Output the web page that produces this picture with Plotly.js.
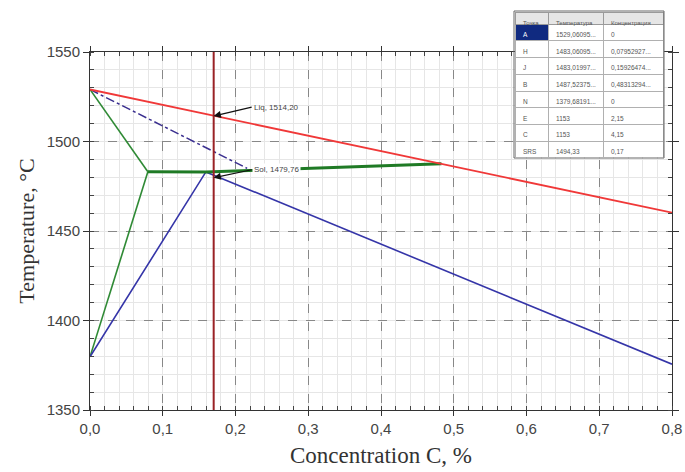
<!DOCTYPE html>
<html>
<head>
<meta charset="utf-8">
<script src="https://cdn.plot.ly/plotly-3.0.1.min.js"></script>
<style>html,body{margin:0;padding:0;background:#fff;}#chart{width:685px;height:472px;}</style>
</head>
<body>
<div id="chart"></div>
<script>
// Liquidus (A-B, extended)
var liqX = [0, 0.4831, 0.8];
var liqY = [1529.06, 1487.52, 1460.2];
// Solidus (N-J-E, clipped by axis)
var solX = [0, 0.1593, 0.8];
var solY = [1379.68, 1483.02, 1375.6];
// Delta-ferrite lines
var ahX = [0, 0.0795];
var ahY = [1529.06, 1483.06];
var nhX = [0, 0.0795];
var nhY = [1379.68, 1483.06];
// Peritectic line H-J-B
var hjbX = [0.0795, 0.1593, 0.4831];
var hjbY = [1483.06, 1483.02, 1487.52];
// Dashed auxiliary line
var dashX = [0, 0.216];
var dashY = [1529.06, 1485];
// Chosen concentration
var cutX = [0.17, 0.17];
var cutY = [1350, 1550];
var liqPoint = [0.17, 1514.2];
var solPoint = [0.17, 1479.76];
var liqLabel = "Liq, 1514,20";
var solLabel = "Sol, 1479,76";

var xTickVals = [0, 0.1, 0.2, 0.3, 0.4, 0.5, 0.6, 0.7, 0.8];
var xTickText = ["0,0", "0,1", "0,2", "0,3", "0,4", "0,5", "0,6", "0,7", "0,8"];
var yTickVals = [1350, 1400, 1450, 1500, 1550];
var yTickText = ["1350", "1400", "1450", "1500", "1550"];

// Table
var tblHeader = ["Точка", "Температура", "Концентрация"];
var tblPoints = ["A", "H", "J", "B", "N", "E", "C", "SRS"];
var tblTemps = ["1529,06095...", "1483,06095...", "1483,01997...", "1487,52375...", "1379,68191...", "1153", "1153", "1494,33"];
var tblConc = ["0", "0,07952927...", "0,15926474...", "0,48313294...", "0", "2,15", "4,15", "0,17"];

var W = 685, H = 472;
var px = function(v){return v / W;};
var py = function(v){return 1 - v / H;};

var traces = [
  {x: dashX, y: dashY, mode: 'lines', line: {color: '#3a2f8f', width: 1.5, dash: 'dashdot'}, hoverinfo: 'skip'},
  {x: ahX, y: ahY, mode: 'lines', line: {color: '#2f8a35', width: 1.6}},
  {x: nhX, y: nhY, mode: 'lines', line: {color: '#2f8a35', width: 1.6}},
  {x: solX, y: solY, mode: 'lines', line: {color: '#3535a8', width: 1.6}},
  {x: hjbX, y: hjbY, mode: 'lines', line: {color: '#1f7a25', width: 3}},
  {x: liqX, y: liqY, mode: 'lines', line: {color: '#f03838', width: 1.8}},
  {x: cutX, y: cutY, mode: 'lines', line: {color: '#9a2226', width: 2}},
  {
    type: 'table',
    domain: {x: [px(515), px(663)], y: [py(158), py(12)]},
    columnwidth: [33, 55, 60],
    header: {
      values: tblHeader,
      align: 'left',
      height: 12,
      fill: {color: '#e6e6e6'},
      line: {color: '#9a9a9a', width: 1},
      font: {family: 'Liberation Sans', size: 6, color: '#555'}
    },
    cells: {
      values: [tblPoints, tblTemps, tblConc],
      align: 'left',
      height: 16.75,
      fill: {color: [tblPoints.map(function(p, i){return i === 0 ? '#102a80' : '#ffffff';}), '#ffffff', '#ffffff']},
      line: {color: '#b0b0b0', width: 1},
      font: {family: 'Liberation Sans', size: 6.5, color: [tblPoints.map(function(p, i){return i === 0 ? '#ffffff' : '#555';}), '#555', '#555']}
    }
  }
];

var layout = {
  width: W, height: H,
  margin: {l: 0, r: 0, t: 0, b: 0},
  paper_bgcolor: '#fff', plot_bgcolor: '#fff',
  showlegend: false,
  xaxis: {
    domain: [px(90), px(672)],
    range: [0, 0.8],
    tickvals: xTickVals, ticktext: xTickText,
    ticks: 'outside', ticklen: 5, tickcolor: '#333',
    showline: true, linecolor: '#333', linewidth: 1, mirror: 'ticks',
    showgrid: true, gridcolor: '#888', griddash: 'dash', gridwidth: 1,
    zeroline: false,
    minor: {dtick: 0.02, tick0: 0, ticks: 'inside', ticklen: 4, tickcolor: '#444', showgrid: true, gridcolor: '#e6e6e6', gridwidth: 1, griddash: 'solid'},
    tickfont: {family: 'Liberation Sans', size: 15, color: '#444'},
    title: {text: 'Concentration C, %', font: {family: 'Liberation Serif', size: 23, color: '#333'}, standoff: 10}
  },
  yaxis: {
    domain: [py(410), py(52)],
    range: [1350, 1550],
    tickvals: yTickVals, ticktext: yTickText,
    ticks: 'outside', ticklen: 6, tickcolor: '#333',
    showline: true, linecolor: '#333', linewidth: 1, mirror: 'ticks',
    showgrid: true, gridcolor: '#888', griddash: 'dash', gridwidth: 1,
    zeroline: false,
    minor: {dtick: 10, tick0: 1350, ticks: 'inside', ticklen: 4, tickcolor: '#444', showgrid: true, gridcolor: '#e6e6e6', gridwidth: 1, griddash: 'solid'},
    tickfont: {family: 'Liberation Sans', size: 15, color: '#444'},
    title: {text: 'Temperature, °C', font: {family: 'Liberation Serif', size: 22, color: '#333'}, standoff: 5}
  },
  annotations: [
    {x: liqPoint[0], y: liqPoint[1], xref: 'x', yref: 'y', text: liqLabel, showarrow: true,
     arrowhead: 2, arrowsize: 1.2, arrowwidth: 1.2, arrowcolor: '#111', ax: 38, ay: -9, xanchor: 'left',
     font: {family: 'Liberation Sans', size: 8, color: '#444'}},
    {x: solPoint[0], y: solPoint[1], xref: 'x', yref: 'y', text: solLabel, showarrow: true,
     arrowhead: 2, arrowsize: 1.2, arrowwidth: 1.2, arrowcolor: '#111', ax: 38, ay: -8, xanchor: 'left',
     bgcolor: '#ffffff',
     font: {family: 'Liberation Sans', size: 8, color: '#444'}}
  ],
  shapes: [
    {type: 'rect', xref: 'paper', yref: 'paper', x0: px(514), x1: px(664), y0: py(158), y1: py(11), line: {color: '#666', width: 1}, layer: 'above'}
  ]
};

Plotly.newPlot('chart', traces, layout, {displayModeBar: false, staticPlot: true});
</script>
</body>
</html>
